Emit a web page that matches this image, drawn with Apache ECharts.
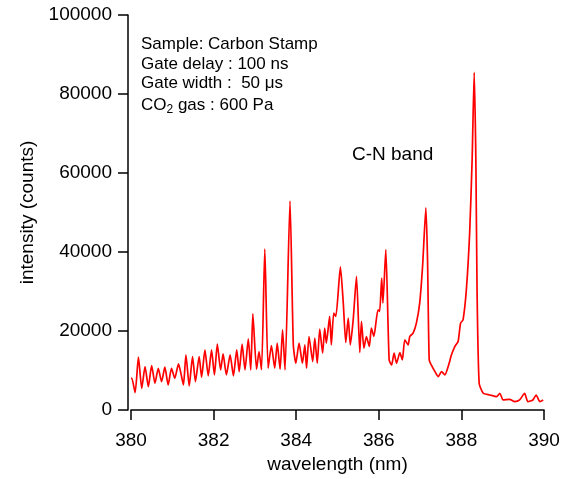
<!DOCTYPE html>
<html>
<head>
<meta charset="utf-8">
<script src="https://cdn.jsdelivr.net/npm/echarts@6/dist/echarts.min.js"></script>
<style>
  html, body { margin: 0; padding: 0; background: #fff; }
  #chart { width: 566px; height: 479px; }
</style>
</head>
<body>
<div id="chart"></div>
<script>
// spectrum (peaks and valleys)
const wavelength = [
  380.00, 380.02, 380.10, 380.18, 380.26, 380.34, 380.42, 380.50, 380.58, 380.66,
  380.74, 380.82, 380.90, 380.98, 381.06, 381.15, 381.21, 381.27, 381.33, 381.41,
  381.49, 381.56, 381.65, 381.71, 381.79, 381.87, 381.95, 382.02, 382.09, 382.17,
  382.23, 382.31, 382.40, 382.48, 382.56, 382.62, 382.69, 382.76, 382.84, 382.90,
  382.95, 383.04, 383.10, 383.16, 383.24, 383.32, 383.40, 383.48, 383.54, 383.61,
  383.67, 383.73, 383.85, 383.93, 383.99, 384.07, 384.15, 384.21, 384.25, 384.31,
  384.40, 384.45, 384.51, 384.57, 384.64, 384.69, 384.73, 384.81, 384.85, 384.91,
  384.96, 385.07, 385.14, 385.20, 385.26, 385.31, 385.38, 385.46, 385.54, 385.58,
  385.64, 385.70, 385.77, 385.82, 385.88, 385.98, 386.02, 386.07, 386.10, 386.17,
  386.25, 386.31, 386.37, 386.43, 386.51, 386.57, 386.63, 386.71, 386.75, 386.83,
  386.91, 386.99, 387.06, 387.14, 387.18, 387.22, 387.27, 387.36, 387.44, 387.52,
  387.60, 387.68, 387.76, 387.84, 387.92, 387.98, 388.04, 388.12, 388.20, 388.26,
  388.31, 388.35, 388.38, 388.43, 388.53, 388.69, 388.85, 388.93, 389.01, 389.17,
  389.29, 389.41, 389.53, 389.61, 389.73, 389.81, 389.90, 389.98
]
const intensity = [
  8000, 8040, 4400, 13370, 5500, 11000, 5900, 11250, 6770, 10570,
  7200, 10830, 6350, 10570, 8040, 11670, 9200, 6350, 13960, 6090,
  13540, 7190, 13540, 8290, 15230, 8630, 15230, 8880, 16670, 10150,
  14210, 8880, 13960, 8630, 15230, 9730, 16670, 10150, 18020, 10150,
  24360, 10320, 14800, 10200, 40780, 10570, 16300, 10600, 16920, 10320,
  20300, 10150, 52900, 16500, 11840, 16920, 11840, 16500, 10570, 18610,
  12270, 18190, 11840, 20470, 14380, 20730, 16920, 23690, 16500, 24530,
  23690, 36210, 27070, 17090, 23270, 16500, 22840, 33840, 14550, 22420,
  15650, 18610, 16070, 20730, 18610, 25380, 24960, 33420, 27070, 40610,
  12690, 11420, 14380, 11840, 14550, 12690, 17770, 16500, 18610, 19460,
  22000, 27070, 36380, 51180, 38070, 12690, 11420, 9730, 8460, 9730,
  8880, 11000, 13960, 16070, 17340, 22000, 22840, 30460, 44840, 63450,
  85450, 63450, 29610, 6770, 4230, 3800, 3380, 4230, 2540, 2710,
  2120, 2540, 4230, 2120, 2540, 3800, 2120, 2540
]
const notes = [
  'Sample: Carbon Stamp',
  'Gate delay : 100 ns',
  'Gate width :  50 μs'
]

const font = '"Liberation Sans", Arial, sans-serif'
const chart = echarts.init(document.getElementById('chart'))

const option = {
  animation: false,
  grid: { left: 131, right: 22, top: 15, bottom: 68 },
  xAxis: {
    type: 'value',
    min: 380,
    max: 390,
    interval: 2,
    offset: 2,
    name: 'wavelength (nm)',
    nameLocation: 'middle',
    nameGap: 43,
    nameTextStyle: { color: '#000', fontSize: 19, fontFamily: font },
    axisLine: { lineStyle: { color: '#000', width: 1.5 } },
    axisTick: { length: 10, lineStyle: { color: '#000', width: 1.5 } },
    axisLabel: { color: '#000', fontSize: 19, fontFamily: font, margin: 19 },
    splitLine: { show: false }
  },
  yAxis: {
    type: 'value',
    min: 0,
    max: 100000,
    interval: 20000,
    offset: 3,
    name: 'intensity (counts)',
    nameLocation: 'middle',
    nameGap: 91,
    nameTextStyle: { color: '#000', fontSize: 19, fontFamily: font },
    axisLine: { show: true, lineStyle: { color: '#000', width: 1.5 } },
    axisTick: { show: true, length: 10, lineStyle: { color: '#000', width: 1.5 } },
    axisLabel: {
      color: '#000',
      fontSize: 19,
      fontFamily: font,
      margin: 16,
      formatter: v => String(v)
    },
    splitLine: { show: false }
  },
  series: [
    {
      type: 'line',
      data: wavelength.map((w, i) => [w, intensity[i]]),
      showSymbol: false,
      smooth: 0.2,
      lineStyle: { color: '#ff0000', width: 1.7 }
    }
  ],
  graphic: [
    ...notes.map((t, i) => ({
      type: 'text',
      left: 141,
      top: 36 + i * 19.5,
      style: { text: t, font: '17px ' + font, fill: '#000' }
    })),
    {
      type: 'text',
      left: 141,
      top: 94,
      style: {
        text: '{n|CO}{s|2}{n| gas : 600 Pa}',
        fill: '#000',
        rich: {
          n: { fontSize: 17, fontFamily: font, lineHeight: 20 },
          s: { fontSize: 12, fontFamily: font, lineHeight: 20, padding: [10, 0, 0, 0] }
        }
      }
    },
    {
      type: 'text',
      left: 352,
      top: 145,
      style: { text: 'C-N band', font: '19px ' + font, fill: '#000' }
    }
  ]
}
chart.setOption(option)
</script>
</body>
</html>
